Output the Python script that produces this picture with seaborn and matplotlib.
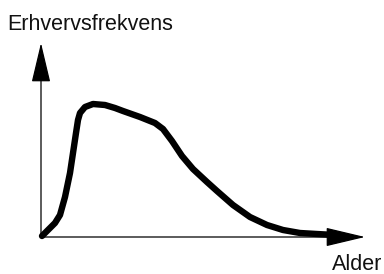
import matplotlib
matplotlib.use("Agg")
import matplotlib.pyplot as plt
import seaborn as sns
import pandas as pd

# Schematic curve: age (x) vs. employment frequency (y), arbitrary units
alder = [1, 14, 19, 24, 29, 32, 35, 37, 39, 44, 52, 64, 74, 82, 99, 114, 122, 131,
         141, 152, 166, 176, 192, 209, 226, 242, 259, 276, 294]
erhvervsfrekvens = [0, 13, 21, 39, 63, 83, 103, 116, 123, 129, 132, 131, 128, 125, 119,
                    113, 107, 95, 80, 67, 54, 45, 31, 19, 11, 6, 3, 2, 1]

x_label = "Alder"
y_label = "Erhvervsfrekvens"

sns.set_theme(style="white")
plt.rcParams["font.family"] = ["Liberation Sans", "DejaVu Sans"]

fig = plt.figure(figsize=(3.84, 2.74), dpi=100)
ax = fig.add_axes([0, 0, 1, 1])
ax.set_xlim(-41, 343)
ax.set_ylim(-38, 236)
ax.axis("off")

arrow_kw = dict(arrowstyle="-|>,head_length=2.1,head_width=0.5", color="black",
                lw=0.9, shrinkA=0, shrinkB=0)
ax.annotate("", xy=(0, 193), xytext=(0, 0), arrowprops=arrow_kw)
ax.annotate("", xy=(324, -1), xytext=(0, -1), arrowprops=arrow_kw)

df = pd.DataFrame({"x": alder, "y": erhvervsfrekvens})
sns.lineplot(data=df, x="x", y="y", sort=False, ax=ax, color="black",
             linewidth=4.6, solid_capstyle="round", solid_joinstyle="round")

fig.text(7 / 384, 1 - 24 / 274, y_label, fontsize=15.5, ha="left", va="center", color="#111111")
fig.text(357 / 384, 1 - 264 / 274, x_label, fontsize=15.5, ha="center", va="center", color="#111111")

fig.savefig("out.png", dpi=100)
